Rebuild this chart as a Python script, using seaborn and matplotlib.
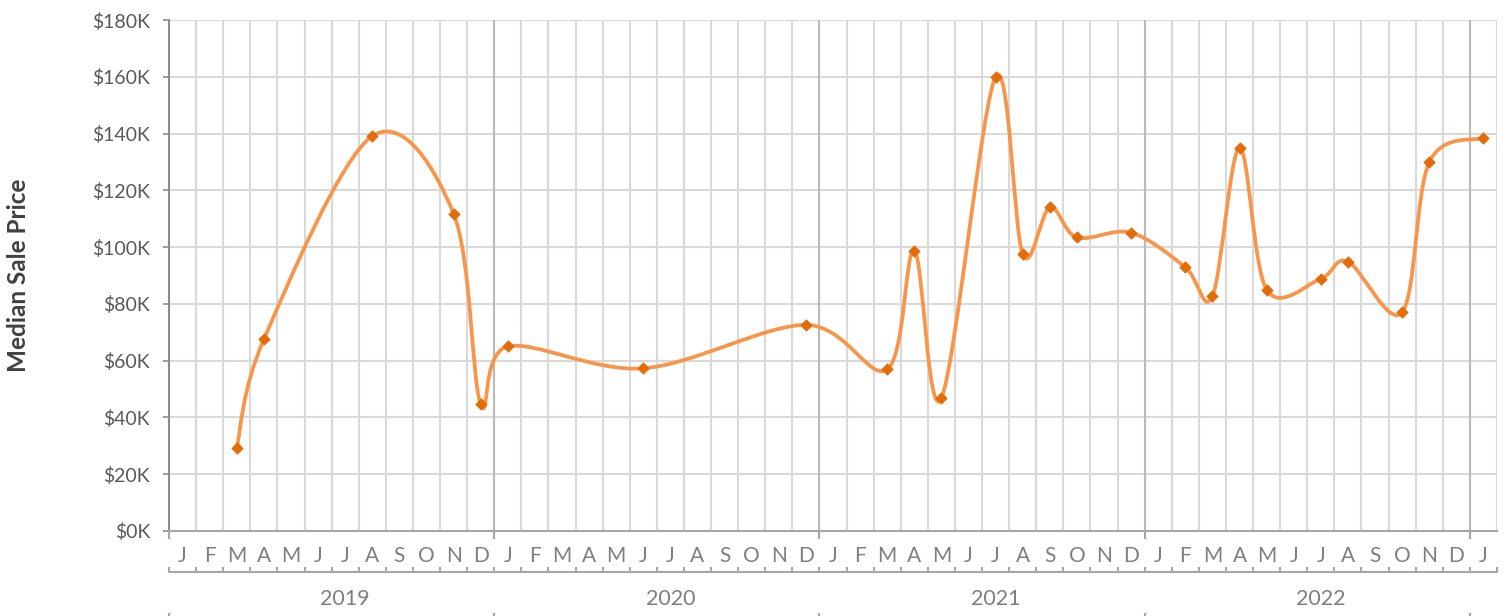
import numpy as np
import matplotlib.pyplot as plt
import seaborn as sns
import pandas as pd
from matplotlib.path import Path
from matplotlib.patches import PathPatch
from matplotlib.ticker import FuncFormatter

# data (month of sale, median price in dollars)
months = ["2019-03", "2019-04", "2019-08", "2019-11", "2019-12",
          "2020-01", "2020-06", "2020-12",
          "2021-03", "2021-04", "2021-05", "2021-07", "2021-08", "2021-09", "2021-10", "2021-12",
          "2022-02", "2022-03", "2022-04", "2022-05", "2022-07", "2022-08", "2022-10", "2022-11",
          "2023-01"]
prices = [29400, 67500, 139100, 111800, 44700,
          65000, 57300, 72600,
          56900, 98700, 46800, 160000, 97500, 114000, 103400, 105100,
          92900, 82700, 135000, 85000, 88900, 94900, 77000, 129900,
          138500]
month_letters = list("JFMAMJJASOND") * 4 + ["J"]
years = ["2019", "2020", "2021", "2022"]
first_year = 2019

LINE = "#F7964A"
MARKER = "#E36C09"
GRID = "#D9D9D9"

sns.set_theme(style="white")
plt.rcParams['font.family'] = ['Lato', 'DejaVu Sans']

df = pd.DataFrame({"month": months, "price": prices})
df["idx"] = df["month"].apply(lambda m: (int(m[:4]) - first_year) * 12 + int(m[5:]) - 1)
n_months = len(month_letters)


def smooth_path(x, y):
    # bezier smoothing like the spreadsheet "smoothed line" option
    pts = np.column_stack([x, y]).astype(float)
    padded = np.vstack([pts[0], pts, pts[-1]])
    verts = [pts[0]]
    codes = [Path.MOVETO]
    for i in range(len(pts) - 1):
        p0, p1, p2, p3 = padded[i], padded[i + 1], padded[i + 2], padded[i + 3]
        verts += [p1 + (p2 - p0) / 6, p2 - (p3 - p1) / 6, p2]
        codes += [Path.CURVE4] * 3
    return Path(verts, codes)


W, H = 1511, 616
fig = plt.figure(figsize=(W / 100, H / 100), dpi=100)
ax = fig.add_axes([169 / W, 1 - 531 / H, (1497 - 169) / W, 511 / H])

ax.set_xlim(-0.5, n_months - 0.5)
ax.set_ylim(0, 180000)

# grid
yt = np.arange(0, 180001, 20000)
for v in yt[1:]:
    ax.axhline(v, color=GRID, lw=1.5, zorder=0)
bounds = np.arange(n_months + 1) - 0.5
year_bounds = bounds[::12]
ax.vlines(bounds, 0, 1, transform=ax.get_xaxis_transform(), color=GRID, lw=1.5, zorder=0)
ax.vlines(year_bounds[1:], 0, 1, transform=ax.get_xaxis_transform(), color="#BABABA", lw=1.5, zorder=0)

# smoothed line + markers
ax.add_patch(PathPatch(smooth_path(df["idx"], df["price"]), fill=False, edgecolor=LINE,
                       lw=2.7, capstyle="round", joinstyle="round", zorder=2))
sns.scatterplot(data=df, x="idx", y="price", marker="D", s=34, color=MARKER,
                edgecolor=MARKER, linewidth=0.5, zorder=3, ax=ax, legend=False)

# axes styling
for s in ["top", "right"]:
    ax.spines[s].set_visible(False)
ax.spines["left"].set_color("#8C8C8C")
ax.spines["left"].set_linewidth(1.5)
ax.spines["bottom"].set_color("#A6A6A6")
ax.spines["bottom"].set_linewidth(1.5)

ax.set_yticks(yt)
ax.yaxis.set_major_formatter(FuncFormatter(lambda v, p: f"${v / 1000:.0f}K"))
ax.tick_params(axis="y", length=4.3, width=1.2, color="#8C8C8C", labelcolor="#595959",
               labelsize=14, pad=9.3, left=True)

ax.set_xticks(range(n_months), month_letters)
ax.set_xticks(year_bounds, minor=True)
ax.tick_params(axis="x", which="major", length=0, labelcolor="#7F7F7F", labelsize=15, pad=10.5)
ax.tick_params(axis="x", which="minor", length=5.5, width=1.5, color="#A6A6A6", bottom=True)
ax.set_xlabel("")
ax.set_ylabel("")

# second level of the category axis (years)
tr = ax.get_xaxis_transform()
y_line = -(571.7 - 531) / 511
y_tick_top = -(566.5 - 531) / 511
ax.plot([-0.5, n_months - 0.5], [y_line, y_line], transform=tr, color="#A6A6A6", lw=1.5,
        clip_on=False)
ax.vlines(bounds, y_tick_top, y_line, transform=tr, color="#A6A6A6", lw=1.5, clip_on=False)
ax.vlines(year_bounds, -(613 - 531) / 511, -(625 - 531) / 511, transform=tr, color="#A6A6A6",
          lw=1.5, clip_on=False)
for i, yr in enumerate(years):
    ax.text(6 + 12 * i, -(599 - 531) / 511, yr, transform=tr, ha="center", va="center",
            fontsize=15.5, color="#7F7F7F")

fig.text(18.5 / W, 1 - 275.5 / H, "Median Sale Price", rotation=90, ha="center", va="center",
         fontsize=17.5, fontweight="bold", color="#404040")

fig.savefig("out.png", dpi=100)
